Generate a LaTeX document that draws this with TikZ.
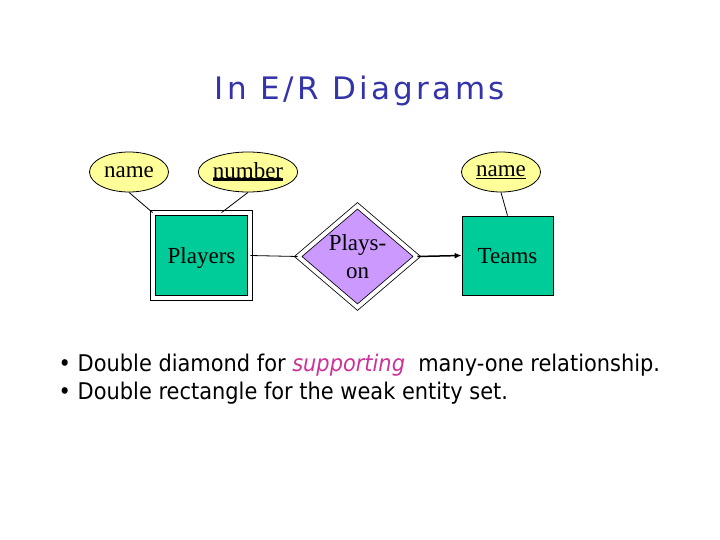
\documentclass[tikz,border=0pt]{standalone}
\usepackage{fontspec}
\setmainfont{Liberation Serif}
\newfontfamily\slidefont[FakeStretch=0.91]{DejaVu Sans}
\newfontfamily\titlefont[LetterSpace=11]{DejaVu Sans}
\usetikzlibrary{shapes.geometric,arrows.meta}
\definecolor{titleblue}{RGB}{51,51,170}
\definecolor{entitygreen}{RGB}{0,204,153}
\definecolor{attryellow}{RGB}{255,255,153}
\definecolor{relpurple}{RGB}{204,153,255}
\definecolor{hilite}{RGB}{204,51,153}
\newcommand{\keyline}[2][0.8pt]{\setbox0\hbox{#2}\rlap{\rule[-2.5pt]{\wd0}{#1}}\box0}

\begin{document}
\begin{tikzpicture}[x=1pt,y=-1pt, line width=0.8pt,
    attr/.style={ellipse, draw, fill=attryellow, minimum width=79pt, minimum height=40pt, inner sep=0pt, font=\fontsize{23}{23}\selectfont},
    entity/.style={draw, fill=entitygreen, inner sep=0pt, text depth=0pt, font=\fontsize{23}{23}\selectfont},
    weakrel/.style={diamond, draw, double, double distance=4pt, fill=relpurple, inner sep=0pt, align=center, font=\fontsize{23}{28}\selectfont},
    note/.style={anchor=base west, font=\slidefont\fontsize{23}{28}\selectfont}
]
\useasboundingbox (0,0) rectangle (720,540);

\node[anchor=base, text=titleblue, font=\titlefont\fontsize{31}{31}\selectfont] (title) at (360,100) {In E/R Diagrams};

\node[attr] (pname) at (129,172) {name};
\node[attr, minimum width=89pt] (number) at (248,172) {\keyline[3pt]{number}};
\node[attr] (tname) at (501,172) {\keyline{name}};

\node[entity, double, double distance=4.4pt, minimum width=97pt, minimum height=85pt] (players) at (201.5,255.5) {Players};
\node[weakrel, minimum width=119pt, minimum height=100pt] (playson) at (357.5,256.5) {\raisebox{-2pt}{Plays-}\\\raisebox{-2pt}{on}};
\node[entity, minimum width=91pt, minimum height=79pt] (teams) at (507.5,255.5) {Teams};

\draw (pname.south) -- (players.north west);
\draw (number.south) -- ([xshift=20pt]players.north);
\draw (tname.south) -- (teams.north);
\draw (players.east) -- (playson.west);
\draw[line width=1.5pt, -{Latex[length=7pt,width=6pt]}] (playson.east) -- (teams.west);

\node[note] (line1) at (55,371) {• Double diamond for \textcolor{hilite}{\itshape supporting}\ \ many-one relationship.};
\node[note] (line2) at (55,399) {• Double rectangle for the weak entity set.};

\end{tikzpicture}
\end{document}
